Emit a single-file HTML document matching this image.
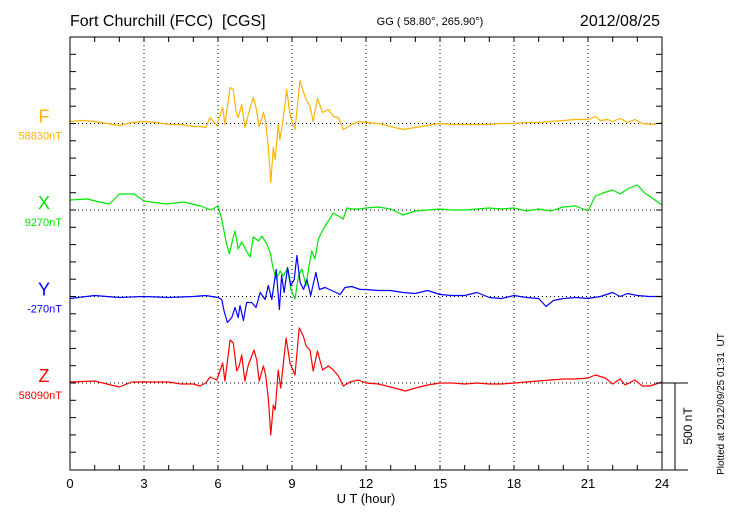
<!DOCTYPE html>
<html><head><meta charset="utf-8"><style>
body{margin:0;background:#fff}
svg{display:block;font-family:"Liberation Sans",sans-serif}
text{white-space:pre}
</style></head><body>
<svg id="chart" width="730" height="520" viewBox="0 0 730 520" xmlns="http://www.w3.org/2000/svg">
<text x="70" y="26" font-size="16">Fort Churchill (FCC)&#160;&#160;[CGS]</text>
<text x="430" y="25" font-size="11" text-anchor="middle">GG ( 58.80°, 265.90°)</text>
<text x="660" y="26" font-size="16" text-anchor="end">2012/08/25</text>
<g id="grid"></g><g id="series"></g><g id="axes"></g>
</svg>
<script>
// deviations from baseline, in pixel-units of 500/86.5 nT
const fHours=[0,0.5,1,1.5,2,2.5,3,3.5,4,4.5,5,5.27,5.5,5.68,5.95,6.19,6.28,6.49,6.62,6.73,6.82,6.96,7.09,7.23,7.43,7.54,7.67,7.84,7.93,8.04,8.14,8.24,8.32,8.44,8.51,8.65,8.78,8.92,9.12,9.32,9.46,9.57,9.73,9.86,10.03,10.24,10.47,10.68,10.88,11.08,11.35,11.69,12,12.5,13,13.5,14,14.5,15,15.5,16,16.5,17,17.5,18,18.5,19,19.5,20,20.5,21,21.3,21.5,21.8,22,22.3,22.6,22.9,23.2,23.6,24];
const fDev=[2,3,2,0,-2,1,2,1,-1,-1,-3,-3,-4,6,-2,16,-1,36,34,12,6,19,-4,9,26,16,-3,11,2,-23,-59,-24,-36,-1,-16,6,34,9,-6,43,32,24,17,2,25,11,14,7,6,-6,-2,2,1,0,-3,-6,-4,-2,0,-1,-1,-1,-1,0,0,1,1,2,3,4,4,7,3,4,2,5,1,4,0,-1,1];
const xHours=[0,0.7,1.2,1.6,2.0,2.6,3.0,3.9,4.6,5.3,5.7,6.0,6.15,6.32,6.46,6.62,6.69,6.82,6.96,7.13,7.3,7.43,7.64,7.78,7.98,8.12,8.23,8.36,8.52,8.65,8.82,8.95,9.12,9.26,9.4,9.57,9.67,9.8,9.93,10.07,10.27,10.47,10.68,10.88,11.08,11.22,11.42,11.76,12,12.5,13,13.5,14,14.5,15,15.5,16,16.5,17,17.5,18,18.5,19,19.5,20,20.5,21,21.3,21.6,22,22.3,22.6,23,23.3,23.6,24];
const xDev=[10,11,8,6,16,16,9,6,8,4,0,4,-9,-31,-44,-27,-21,-39,-32,-40,-47,-27,-31,-26,-34,-43,-58,-69,-61,-66,-58,-79,-89,-66,-59,-76,-59,-41,-49,-29,-19,-11,-3,-6,-9,2,1,1,2,3,1,-5,-1,0,1,0,0,1,2,1,2,-1,1,-1,3,4,-1,14,17,20,16,21,25,17,12,5];
const yHours=[0,1,2,3,4,5,5.5,6.0,6.15,6.25,6.38,6.56,6.69,6.82,6.89,7.03,7.16,7.37,7.54,7.71,7.91,8.04,8.18,8.36,8.49,8.58,8.68,8.82,8.95,9.09,9.2,9.33,9.47,9.6,9.76,9.97,10.11,10.34,10.61,10.95,11.15,11.42,11.76,12,12.5,13,13.5,14,14.5,15,15.5,16,16.5,17,17.5,18,18.5,19,19.3,19.6,20,20.5,21,21.5,22,22.3,22.6,23,23.5,24];
const yDev=[-2,1,-1,0,-1,0,1,-1,-3,-15,-26,-21,-11,-21,-9,-24,-6,-6,-11,4,-3,11,-3,27,-13,21,4,29,11,17,41,14,7,17,1,24,7,9,6,2,9,10,7,7,6,6,4,3,6,2,1,1,4,-1,-2,1,-1,-2,-10,-4,-2,-1,-2,0,4,0,3,1,0,0];
const zHours=[0,1,2,2.5,3,4,4.5,5,5.27,5.5,5.68,5.95,6.19,6.28,6.49,6.62,6.76,6.86,6.96,7.09,7.23,7.46,7.57,7.67,7.84,7.93,8.04,8.14,8.24,8.32,8.44,8.54,8.76,8.92,9.12,9.29,9.46,9.57,9.73,9.86,10.03,10.24,10.47,10.68,10.88,11.08,11.35,11.69,12,12.5,13,13.6,14,14.5,15,15.5,16,16.5,17,17.5,18,18.5,19,19.5,20,20.5,21,21.3,21.7,22,22.3,22.5,22.9,23.2,23.5,24];
const zDev=[1,2,-4,1,1,1,-1,-1,-3,0,6,3,20,2,43,40,12,17,28,2,18,33,23,2,17,8,-15,-52,-22,-27,13,-5,45,20,8,55,47,37,33,12,32,13,17,13,7,-3,1,3,0,-1,-4,-8,-5,-2,0,0,-1,0,-1,-1,0,1,2,3,4,4,5,8,5,-1,4,-2,3,-3,-3,1];
const xTickLabels=["0","3","6","9","12","15","18","21","24"];
const seriesNames=["F","X","Y","Z"];
const baseLabels=["58830nT","9270nT","-270nT","58090nT"];
const colors=["#FFB400","#00E600","#0000FF","#FF0000"];

const L=70,R=662,T=37,B=470,tick=17.3,NS="http://www.w3.org/2000/svg";
const baselines=[T+5*tick,T+10*tick,T+15*tick,T+20*tick];
const xs=h=>L+(R-L)*h/24;
function mk(tag,attrs,parent){const e=document.createElementNS(NS,tag);for(const k in attrs)e.setAttribute(k,attrs[k]);parent.appendChild(e);return e;}
const grid=document.getElementById('grid'),ser=document.getElementById('series'),ax=document.getElementById('axes');
for(let i=1;i<8;i++){const l=mk('line',{x1:xs(i*3),x2:xs(i*3),y1:T,y2:B,stroke:'#000','stroke-width':1,'stroke-dasharray':'1,3'},grid);

}
baselines.forEach((y,i)=>{const l=mk('line',{x1:L,x2:R,y1:y,y2:y,stroke:'#000','stroke-width':1,'stroke-dasharray':'1,3'},grid);

});
const H=[fHours,xHours,yHours,zHours],D=[fDev,xDev,yDev,zDev];
for(let s=0;s<4;s++){const pts=H[s].map((h,i)=>xs(h).toFixed(1)+','+(baselines[s]-D[s][i]).toFixed(1)).join(' ');
const p=mk('polyline',{points:pts,fill:'none',stroke:colors[s],'stroke-width':1.2,'stroke-linejoin':'round'},ser);


const t=mk('text',{x:44,y:baselines[s]-1,'font-size':18,fill:colors[s],'text-anchor':'middle'},ax);t.textContent=seriesNames[s];


const b=mk('text',{x:62,y:baselines[s]+16,'font-size':11,fill:colors[s],'text-anchor':'end'},ax);b.textContent=baseLabels[s];

}
const fr=mk('rect',{x:L,y:T,width:R-L,height:B-T,fill:'none',stroke:'#000','stroke-width':1},ax);


for(let h=1;h<24;h++){mk('line',{x1:xs(h),x2:xs(h),y1:T,y2:T+5,stroke:'#000'},ax);mk('line',{x1:xs(h),x2:xs(h),y1:B,y2:B-5,stroke:'#000'},ax);}
for(let k=1;k<25;k++){const y=T+k*tick;mk('line',{x1:L,x2:L+6,y1:y,y2:y,stroke:'#000'},ax);mk('line',{x1:R,x2:R-6,y1:y,y2:y,stroke:'#000'},ax);}
xTickLabels.forEach((lab,i)=>{const t=mk('text',{x:xs(i*3),y:488,'font-size':13,'text-anchor':'middle'},ax);t.textContent=lab;

});
const xt=mk('text',{x:366,y:503,'font-size':13,'text-anchor':'middle'},ax);xt.textContent='U T (hour)';


const zb=baselines[3];
mk('line',{x1:R,x2:688,y1:zb,y2:zb,stroke:'#000'},ax);mk('line',{x1:R,x2:688,y1:B,y2:B,stroke:'#000'},ax);
const sb=mk('line',{x1:675,x2:675,y1:zb,y2:B,stroke:'#000'},ax);


const st=mk('text',{x:0,y:0,'font-size':12,'text-anchor':'middle',transform:'translate(692,426) rotate(-90)'},ax);st.textContent='500 nT';


const pt=mk('text',{x:0,y:0,'font-size':10,'text-anchor':'middle',transform:'translate(724,404) rotate(-90)'},ax);pt.textContent='Plotted at 2012/09/25 01:31  UT';


</script>
</body></html>
